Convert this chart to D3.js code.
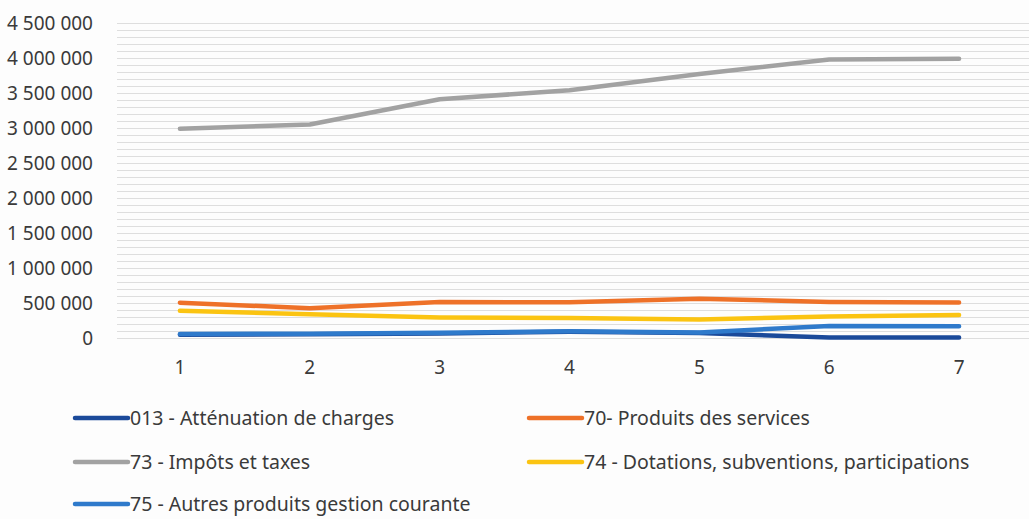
<!DOCTYPE html>
<html>
<head>
<meta charset="utf-8">
<script src="https://cdn.jsdelivr.net/npm/d3@7"></script>
<style>
	body { margin: 0; background: #fdfdfd; }
	svg { display: block; font-family: "Noto Sans", sans-serif; }
	.tick-label { fill: #3a3a3a; font-size: 19px; }
	.legend-text { fill: #3a3a3a; font-size: 19.5px; }
</style>
</head>
<body>
<div id="graph"></div>
<script>
var width = 1029
var height = 519

// values
var periods = ["1", "2", "3", "4", "5", "6", "7"];
var names = [
	"013 - Atténuation de charges",
	"70- Produits des services",
	"73 - Impôts et taxes",
	"74 - Dotations, subventions, participations",
	"75 - Autres produits gestion courante"
];
var colors = ["#1b4a9a", "#ee7128", "#a2a2a2", "#fbc412", "#2f7acb"];
var s013 = [47000, 52000, 66000, 88000, 70000, 8000, 8000];
var s70 = [505000, 425000, 515000, 510000, 560000, 515000, 508000];
var s73 = [2990000, 3050000, 3410000, 3540000, 3770000, 3980000, 3990000];
var s74 = [388000, 340000, 292000, 285000, 265000, 308000, 328000];
var s75 = [58000, 62000, 76000, 96000, 78000, 172000, 168000];
var yTicks = [0, 500000, 1000000, 1500000, 2000000, 2500000, 3000000, 3500000, 4000000, 4500000];

var series = [s013, s70, s73, s74, s75];

var svg = d3.select("#graph")
	.append("svg")
	.attr("width", width)
	.attr("height", height);

var x = d3.scaleBand()
	.domain(periods)
	.range([115, 1024]);

var y = d3.scaleLinear()
	.domain([0, 4500000])
	.range([338, 23]);

var fmt = function (v) {
	return d3.format(",")(v).replace(/,/g, " ");
};

// gridlines, every 100 000
svg.append("g")
	.selectAll("line")
	.data(d3.range(0, 4500001, 100000))
	.enter()
	.append("line")
	.attr("x1", 117)
	.attr("x2", 1029)
	.attr("y1", (d) => Math.round(y(d)) + 0.5)
	.attr("y2", (d) => Math.round(y(d)) + 0.5)
	.attr("stroke", "#dedede")
	.attr("stroke-width", 1);

svg.append("g")
	.selectAll("text")
	.data(yTicks)
	.enter()
	.append("text")
	.attr("class", "tick-label")
	.attr("x", 93)
	.attr("y", (d) => y(d))
	.attr("dy", "0.35em")
	.attr("text-anchor", "end")
	.text((d) => fmt(d));

svg.append("g")
	.selectAll("text")
	.data(periods)
	.enter()
	.append("text")
	.attr("class", "tick-label")
	.attr("x", (d) => x(d) + x.bandwidth() / 2)
	.attr("y", 367)
	.attr("dy", "0.35em")
	.attr("text-anchor", "middle")
	.text((d) => d);

var line = d3.line()
	.x((d, i) => x(periods[i]) + x.bandwidth() / 2)
	.y((d) => y(d));

svg.append("g")
	.selectAll("path")
	.data(series)
	.enter()
	.append("path")
	.attr("d", line)
	.attr("fill", "none")
	.attr("stroke", (d, i) => colors[i])
	.attr("stroke-width", 4.5)
	.attr("stroke-linecap", "round")
	.attr("stroke-linejoin", "round");

// legend
var legendPos = [[73, 418], [527, 418], [73, 462], [527, 462], [73, 504]];

var legendElem = svg.append("g")
	.selectAll("g")
	.data(names)
	.enter()
	.append("g")
	.attr("transform", (d, i) => "translate(" + legendPos[i][0] + "," + legendPos[i][1] + ")");

legendElem.append("line")
	.attr("x1", 2)
	.attr("x2", 55)
	.attr("stroke", (d, i) => colors[i])
	.attr("stroke-width", 4.5)
	.attr("stroke-linecap", "round");

legendElem.append("text")
	.attr("class", "legend-text")
	.attr("x", 57)
	.attr("dy", "0.35em")
	.text((d) => d);
</script>
</body>
</html>
